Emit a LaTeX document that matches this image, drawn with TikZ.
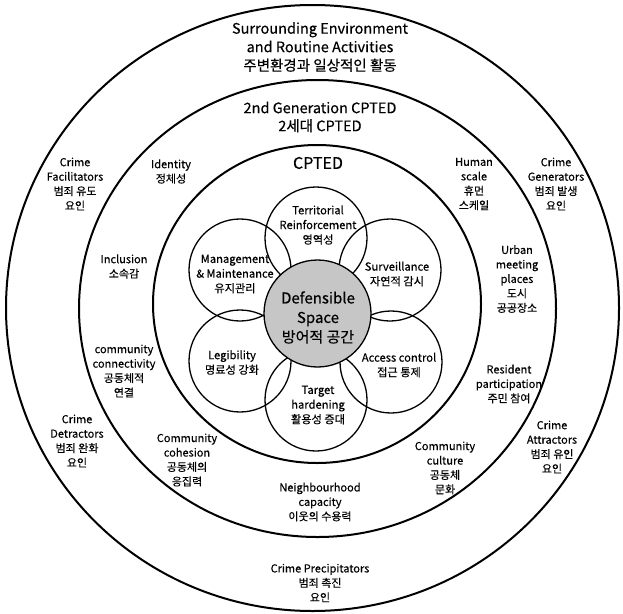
\documentclass[tikz,border=0pt]{standalone}
\usepackage{fontspec}
\setmainfont{Noto Sans CJK KR}[FakeBold=0.35]
\begin{document}
\begin{tikzpicture}[x=1pt,y=-1pt,
  ring/.style={line width=2pt},
  petal/.style={line width=1.3pt},
  core/.style={line width=1.3pt, fill=gray!45},
  bigtxt/.style={align=center, font=\fontsize{14.5}{18.5}\selectfont, inner sep=0pt},
  midtxt/.style={align=center, font=\fontsize{14.5}{18}\selectfont, inner sep=0pt},
  cptedtxt/.style={align=center, font=\fontsize{16}{18}\selectfont, inner sep=0pt},
  coretxt/.style={align=center, font=\fontsize{15}{19.5}\selectfont, inner sep=0pt},
  pettxt/.style={align=center, font=\fontsize{11.2}{14.7}\selectfont, inner sep=0pt},
  smalltxt/.style={align=center, font=\fontsize{11}{14.5}\selectfont, inner sep=0pt}]
\useasboundingbox (0,0) rectangle (623,613);
% rings
\coordinate (oc) at (312.5,308);
\coordinate (sc) at (317.5,308.5);
\coordinate (cc) at (317,304);
\draw[ring] (oc) ellipse [x radius=306.5, y radius=303];
\draw[ring] (sc) ellipse [x radius=238.5, y radius=228.5];
\draw[ring] (cc) ellipse [x radius=164, y radius=159];
% petals
\coordinate (pT) at (316,238);
\coordinate (pUR) at (390,270);
\coordinate (pLR) at (391,362);
\coordinate (pB) at (316,400);
\coordinate (pLL) at (240,361);
\coordinate (pUL) at (240,270);
\foreach \p in {pT,pUR,pLR,pB,pLL,pUL}{\draw[petal] (\p) circle [radius=51];}
\coordinate (dc) at (317.5,313.5);
\draw[core] (dc) circle [radius=53.5];
% texts
\node[bigtxt] (surr) at (320,47) {Surrounding Environment\\and Routine Activities\\주변환경과 일상적인 활동};
\node[midtxt] (gen2) at (320,117) {2nd Generation CPTED\\2세대 CPTED};
\node[cptedtxt] (cpted) at (318,163) {CPTED};
\node[smalltxt] (fac) at (75,184) {Crime\\Facilitators\\범죄 유도\\요인};
\node[smalltxt] (iden) at (171,171.5) {Identity\\정체성};
\node[smalltxt] (hum) at (474,184) {Human\\scale\\휴먼\\스케일};
\node[smalltxt] (gen) at (556,184) {Crime\\Generators\\범죄 발생\\요인};
\node[smalltxt] (incl) at (124,266.5) {Inclusion\\소속감};
\node[smalltxt] (urb) at (517,279) {Urban\\meeting\\places\\도시\\공공장소};
\node[smalltxt] (conn) at (124,371) {community\\connectivity\\공동체적\\연결};
\node[smalltxt] (res) at (509,384) {Resident\\participation\\주민 참여};
\node[smalltxt] (det) at (77,441) {Crime\\Detractors\\범죄 완화\\요인};
\node[smalltxt] (att) at (552,447) {Crime\\Attractors\\범죄 유인\\요인};
\node[smalltxt] (coh) at (187,460) {Community\\cohesion\\공동체의\\응집력};
\node[smalltxt] (cul) at (445,468) {Community\\culture\\공동체\\문화};
\node[smalltxt] (nei) at (320,502) {Neighbourhood\\capacity\\이웃의 수용력};
\node[smalltxt] (pre) at (320,583) {Crime Precipitators\\범죄 촉진\\요인};
% petal texts
\node[pettxt] (terr) at (318,225) {Territorial\\Reinforcement\\영역성};
\node[pettxt] (mgmt) at (235,274) {Management\\\& Maintenance\\유지관리};
\node[pettxt] (surv) at (397,274) {Surveillance\\자연적 감시};
\node[coretxt] (def) at (318,317.5) {Defensible\\Space\\방어적 공간};
\node[pettxt] (leg) at (232,362.5) {Legibility\\명료성 강화};
\node[pettxt] (acc) at (399,365) {Access control\\접근 통제};
\node[pettxt] (tar) at (318,405) {Target\\hardening\\활용성 증대};
\end{tikzpicture}
\end{document}
